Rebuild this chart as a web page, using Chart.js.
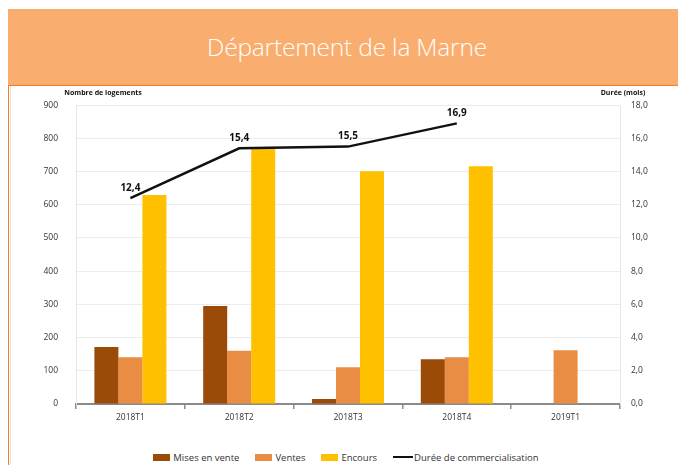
<!DOCTYPE html>
<html>
<head>
<meta charset="utf-8">
<script src="https://cdn.jsdelivr.net/npm/chart.js@4"></script>
<style>
  html,body{margin:0;padding:0;background:#fff;}
  body{width:678px;height:465px;position:relative;overflow:hidden;font-family:"Open Sans",sans-serif;}
  #band{position:absolute;left:8px;top:9px;width:670px;height:76px;background:#F9AE6F;border-bottom:1px solid #ED7D31;}
  #band span{position:absolute;left:0;right:0;top:21px;text-align:center;color:#fff;font-size:24.5px;font-weight:300;letter-spacing:-0.2px;padding-left:8px;}
  #leftline{position:absolute;left:8px;top:86px;width:1px;height:379px;background:#ED7D31;}
  #leftline2{position:absolute;left:10px;top:86px;width:1px;height:379px;background:#e4e4e4;}
  #wrap{position:absolute;left:10px;top:82px;width:668px;height:363px;}
  #legend{position:absolute;left:0;top:450px;width:692px;text-align:center;font-size:9.5px;color:#333;white-space:nowrap;}
  #legend .it{display:inline-block;margin:0 8px;vertical-align:middle;}
  #legend .bx{display:inline-block;width:17px;height:7px;margin-right:3px;vertical-align:middle;position:relative;top:-1px;}
  #legend .ln{display:inline-block;width:20px;height:2px;background:#111;margin-right:1px;vertical-align:middle;position:relative;top:-1px;}
</style>
</head>
<body>
<div id="band"><span>Département de la Marne</span></div>
<div id="leftline"></div>
<div id="leftline2"></div>
<div id="wrap"><canvas id="c" width="668" height="363"></canvas></div>
<div id="legend"></div>
<script>
const categories = ["2018T1","2018T2","2018T3","2018T4","2019T1"];
const misesEnVente = [172, 295, 15, 135, null];
const ventes = [141, 160, 111, 141, 162];
const encours = [629, 770, 701, 716, null];
const dureeCommercialisation = [12.4, 15.4, 15.5, 16.9, null];
const leftTicks = [0,100,200,300,400,500,600,700,800,900];
const rightTicks = [0,2,4,6,8,10,12,14,16,18];

const seriesNames = ["Mises en vente","Ventes","Encours","Durée de commercialisation"];
const colors = ["#9C4A08","#E98D44","#FFC000","#111111"];

const fmt = v => v.toFixed(1).replace('.', ',');

const legend = document.getElementById('legend');
seriesNames.forEach((n,i)=>{
  const it = document.createElement('span'); it.className='it';
  const m = document.createElement('span');
  if(i<3){ m.className='bx'; m.style.background=colors[i]; } else { m.className='ln'; }
  it.appendChild(m);
  it.appendChild(document.createTextNode(n));
  legend.appendChild(it);
});

const overlay = {
  id:'overlay',
  afterDatasetsDraw(chart){
    const ctx = chart.ctx;
    ctx.save();
    const meta = chart.getDatasetMeta(3);
    ctx.font = 'bold 10px "Open Sans", sans-serif';
    ctx.fillStyle = '#111';
    ctx.textAlign = 'center';
    ctx.textBaseline = 'bottom';
    meta.data.forEach((p,i)=>{
      const v = dureeCommercialisation[i];
      if(v==null) return;
      ctx.fillText(fmt(v), p.x, p.y - 5);
    });
    ctx.font = 'bold 7px "Open Sans", sans-serif';
    ctx.fillStyle = '#111';
    ctx.textBaseline = 'middle';
    ctx.fillText('Nombre de logements', 93, 11);
    ctx.fillText('Durée (mois)', 613, 11);
    ctx.restore();
  }
};

const tickFont = {size:8.5, family:'"Open Sans", sans-serif'};

new Chart(document.getElementById('c'), {
  type:'bar',
  data:{
    labels: categories,
    datasets:[
      {label:seriesNames[0], data:misesEnVente, backgroundColor:colors[0], yAxisID:'y', order:2},
      {label:seriesNames[1], data:ventes, backgroundColor:colors[1], yAxisID:'y', order:2},
      {label:seriesNames[2], data:encours, backgroundColor:colors[2], yAxisID:'y', order:2},
      {label:seriesNames[3], data:dureeCommercialisation, type:'line', borderColor:colors[3], borderWidth:2.5,
       pointRadius:0, pointHoverRadius:0, yAxisID:'y1', order:1, tension:0, spanGaps:false}
    ]
  },
  options:{
    responsive:false,
    animation:false,
    events:[],
    layout:{padding:{top:12,left:0,right:0,bottom:0}},
    datasets:{bar:{categoryPercentage:0.662, barPercentage:1.0}},
    plugins:{legend:{display:false}, tooltip:{enabled:false}},
    scales:{
      x:{
        offset:true,
        grid:{display:true, offset:true, drawOnChartArea:false, tickLength:5, color:'#8a8a8a', lineWidth:1.5},
        border:{display:true, color:'#8a8a8a', width:2},
        ticks:{font:tickFont, color:'#333', padding:3, maxRotation:0},
        afterFit(s){ s.height = 41; }
      },
      y:{
        position:'left', min:0, max:900,
        afterBuildTicks(s){ s.ticks = leftTicks.map(v=>({value:v})); },
        ticks:{font:tickFont, color:'#333', padding:18, callback:v=>String(v)},
        grid:{color:'#ececec', lineWidth:1, drawTicks:false},
        border:{display:true, color:'#e6e6e6'},
        afterFit(s){ s.width = 66; }
      },
      y1:{
        position:'right', min:0, max:18,
        afterBuildTicks(s){ s.ticks = rightTicks.map(v=>({value:v})); },
        ticks:{font:tickFont, color:'#333', padding:11, callback:v=>fmt(v)},
        grid:{drawOnChartArea:false, drawTicks:false},
        border:{display:true, color:'#e6e6e6'},
        afterFit(s){ s.width = 58; }
      }
    }
  },
  plugins:[overlay]
});
</script>
</body>
</html>
